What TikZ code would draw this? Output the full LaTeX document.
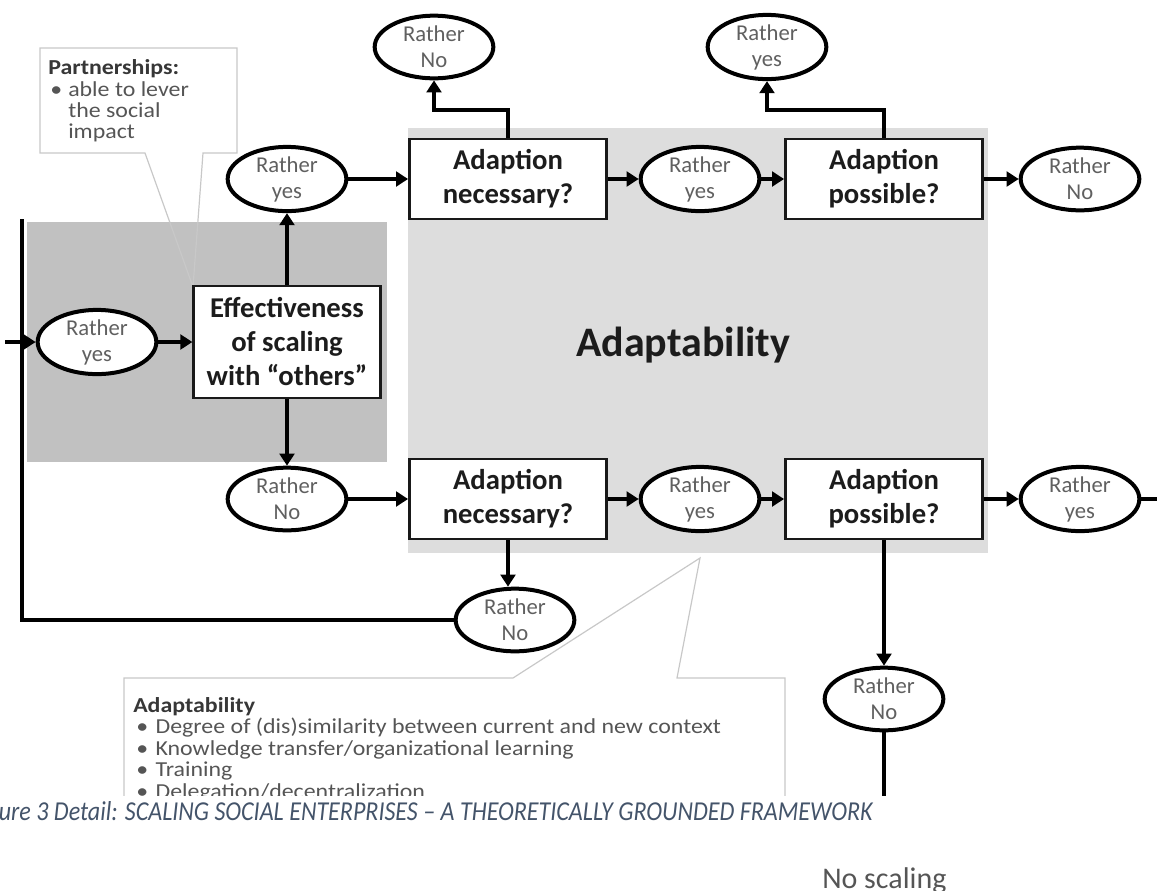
\documentclass[tikz,border=0pt]{standalone}
\usepackage{fontspec}
\setmainfont{Carlito}
\newfontfamily\widefont[FakeStretch=1.12]{Carlito}
\newfontfamily\capfont[FakeStretch=0.88]{Carlito}
\usetikzlibrary{arrows.meta,shapes.geometric}

\definecolor{darkzone}{RGB}{193,193,193}
\definecolor{lightzone}{RGB}{221,221,221}
\definecolor{ovaltext}{RGB}{96,96,96}
\definecolor{boxtext}{RGB}{28,28,28}
\definecolor{calloutline}{RGB}{200,200,200}
\definecolor{callouthead}{RGB}{55,55,55}
\definecolor{callouttext}{RGB}{85,85,85}
\definecolor{captionblue}{RGB}{68,84,106}
\definecolor{noscale}{RGB}{85,85,85}

\tikzset{
  oval/.style={draw=black, line width=3pt, ellipse, fill=white, inner sep=0pt,
    minimum width=89pt, minimum height=47pt, align=center, text=ovaltext,
    font=\fontsize{17}{19.5}\selectfont},
  question/.style={draw=black!90, line width=1.9pt, fill=white, inner sep=0pt,
    minimum width=148pt, minimum height=60pt, align=center, text=boxtext,
    font=\bfseries\fontsize{21.5}{25.5}\selectfont},
  flow/.style={line width=3pt, -{Triangle[length=9pt,width=11pt]}},
  rail/.style={line width=3.2pt},
  callout/.style={draw=calloutline, line width=0.9pt},
  calloutitem/.style={anchor=base west, inner sep=0pt, text=callouttext,
    font=\widefont\fontsize{16}{18}\selectfont},
  callouthd/.style={calloutitem, text=callouthead,
    font=\widefont\bfseries\fontsize{16}{18}\selectfont},
}

\begin{document}
\begin{tikzpicture}[x=0.75pt,y=-0.75pt]
\useasboundingbox (0,0) rectangle (1157,890);
\clip (0,0) rectangle (1157,890);

\begin{scope}
\clip (0,0) rectangle (1157,795);

% shaded zones
\fill[darkzone] (27,222) rectangle (387,462);
\fill[lightzone] (408,128) rectangle (988,553);
\node[font=\bfseries\fontsize{31.5}{36}\selectfont, text=boxtext] (zone) at (683,345) {Adaptability};

% callout outlines
\draw[callout] (145,153) -- (40,153) -- (40,48) -- (237,48) -- (237,153) -- (203,153) -- (193,287) -- cycle;
\draw[callout] (124,810) -- (124,678) -- (513,678) -- (700,558) -- (677,678) -- (785,678) -- (785,810);

% callout texts
\node[callouthd] (ph) at (48,74) {Partnerships:};
\node[calloutitem] (p1) at (50,96) {\makebox[13.5pt][l]{\textbullet}able to lever};
\node[calloutitem] (p2) at (68,117) {the social};
\node[calloutitem] (p3) at (68,138) {impact};

\node[callouthd] (ah) at (133,712) {Adaptability};
\node[calloutitem] (a1) at (136,733) {\makebox[14.5pt][l]{\textbullet}Degree of (dis)similarity between current and new context};
\node[calloutitem] (a2) at (136,755) {\makebox[14.5pt][l]{\textbullet}Knowledge transfer/organizational learning};
\node[calloutitem] (a3) at (136,776) {\makebox[14.5pt][l]{\textbullet}Training};
\node[calloutitem, text depth=0pt] (a4) at (136,798) {\makebox[14.5pt][l]{\textbullet}Delegation/decentralization};

% flow nodes
\node[oval] (yin) at (97,342) {Rather\\yes};
\node[question, minimum width=140pt, minimum height=84pt] (eff) at (287,342) {Effectiveness\\of scaling\\with “others”};
\node[oval] (yup) at (287,179) {Rather\\yes};
\node[oval] (ndown) at (287,499) {Rather\\No};

\node[question] (nec1) at (508,179) {Adaption\\necessary?};
\node[oval] (no1) at (434,47) {Rather\\No};
\node[oval] (yes1) at (700,179) {Rather\\yes};
\node[question] (pos1) at (884,179) {Adaption\\possible?};
\node[oval] (yes2) at (767,47) {Rather\\yes};
\node[oval] (no2) at (1080,179) {Rather\\No};

\node[question] (nec2) at (508,499) {Adaption\\necessary?};
\node[oval] (yes3) at (700,499) {Rather\\yes};
\node[question] (pos2) at (884,499) {Adaption\\possible?};
\node[oval] (yes4) at (1080,499) {Rather\\yes};
\node[oval] (no3) at (515,620) {Rather\\No};
\node[oval] (no4) at (884,699) {Rather\\No};

% free ends
\coordinate (feed) at (5,342);
\coordinate (railtop) at (22,219);
\coordinate (exitright) at (1165,499);
\coordinate (exitdown) at (884,805);

% connectors
\draw[rail] (no3.west) -| (railtop);
\draw[flow] (feed) -- (yin.west);
\draw[flow] (yin) -- (eff);
\draw[flow] (eff) -- (yup);
\draw[flow] (eff) -- (ndown);
\draw[flow] (yup) -- (nec1);
\draw[flow] (ndown) -- (nec2);

\draw[flow] (nec1.north) -- ++(0,-28) -| (no1.south);
\draw[flow] (nec1) -- (yes1);
\draw[flow] (yes1) -- (pos1);
\draw[flow] (pos1.north) -- ++(0,-28) -| (yes2.south);
\draw[flow] (pos1) -- (no2);

\draw[flow] (nec2) -- (yes3);
\draw[flow] (yes3) -- (pos2);
\draw[flow] (pos2) -- (yes4);
\draw[rail] (yes4.east) -- (exitright);
\draw[flow] (nec2.south) -- (nec2.south |- no3.north);
\draw[flow] (pos2) -- (no4);
\draw[rail] (no4.south) -- (exitdown);
\end{scope}

% caption and trailing label
\node[anchor=base east, inner sep=0pt, text=captionblue,
  font=\capfont\itshape\fontsize{20.5}{23}\selectfont] (cap) at (873,820)
  {Figure 3 Detail: SCALING SOCIAL ENTERPRISES – A THEORETICALLY GROUNDED FRAMEWORK};
\node[anchor=base west, inner sep=0pt, text depth=0pt, text=noscale,
  font=\fontsize{22.5}{26}\selectfont] (ns) at (822,888) {No scaling};
\end{tikzpicture}
\end{document}
